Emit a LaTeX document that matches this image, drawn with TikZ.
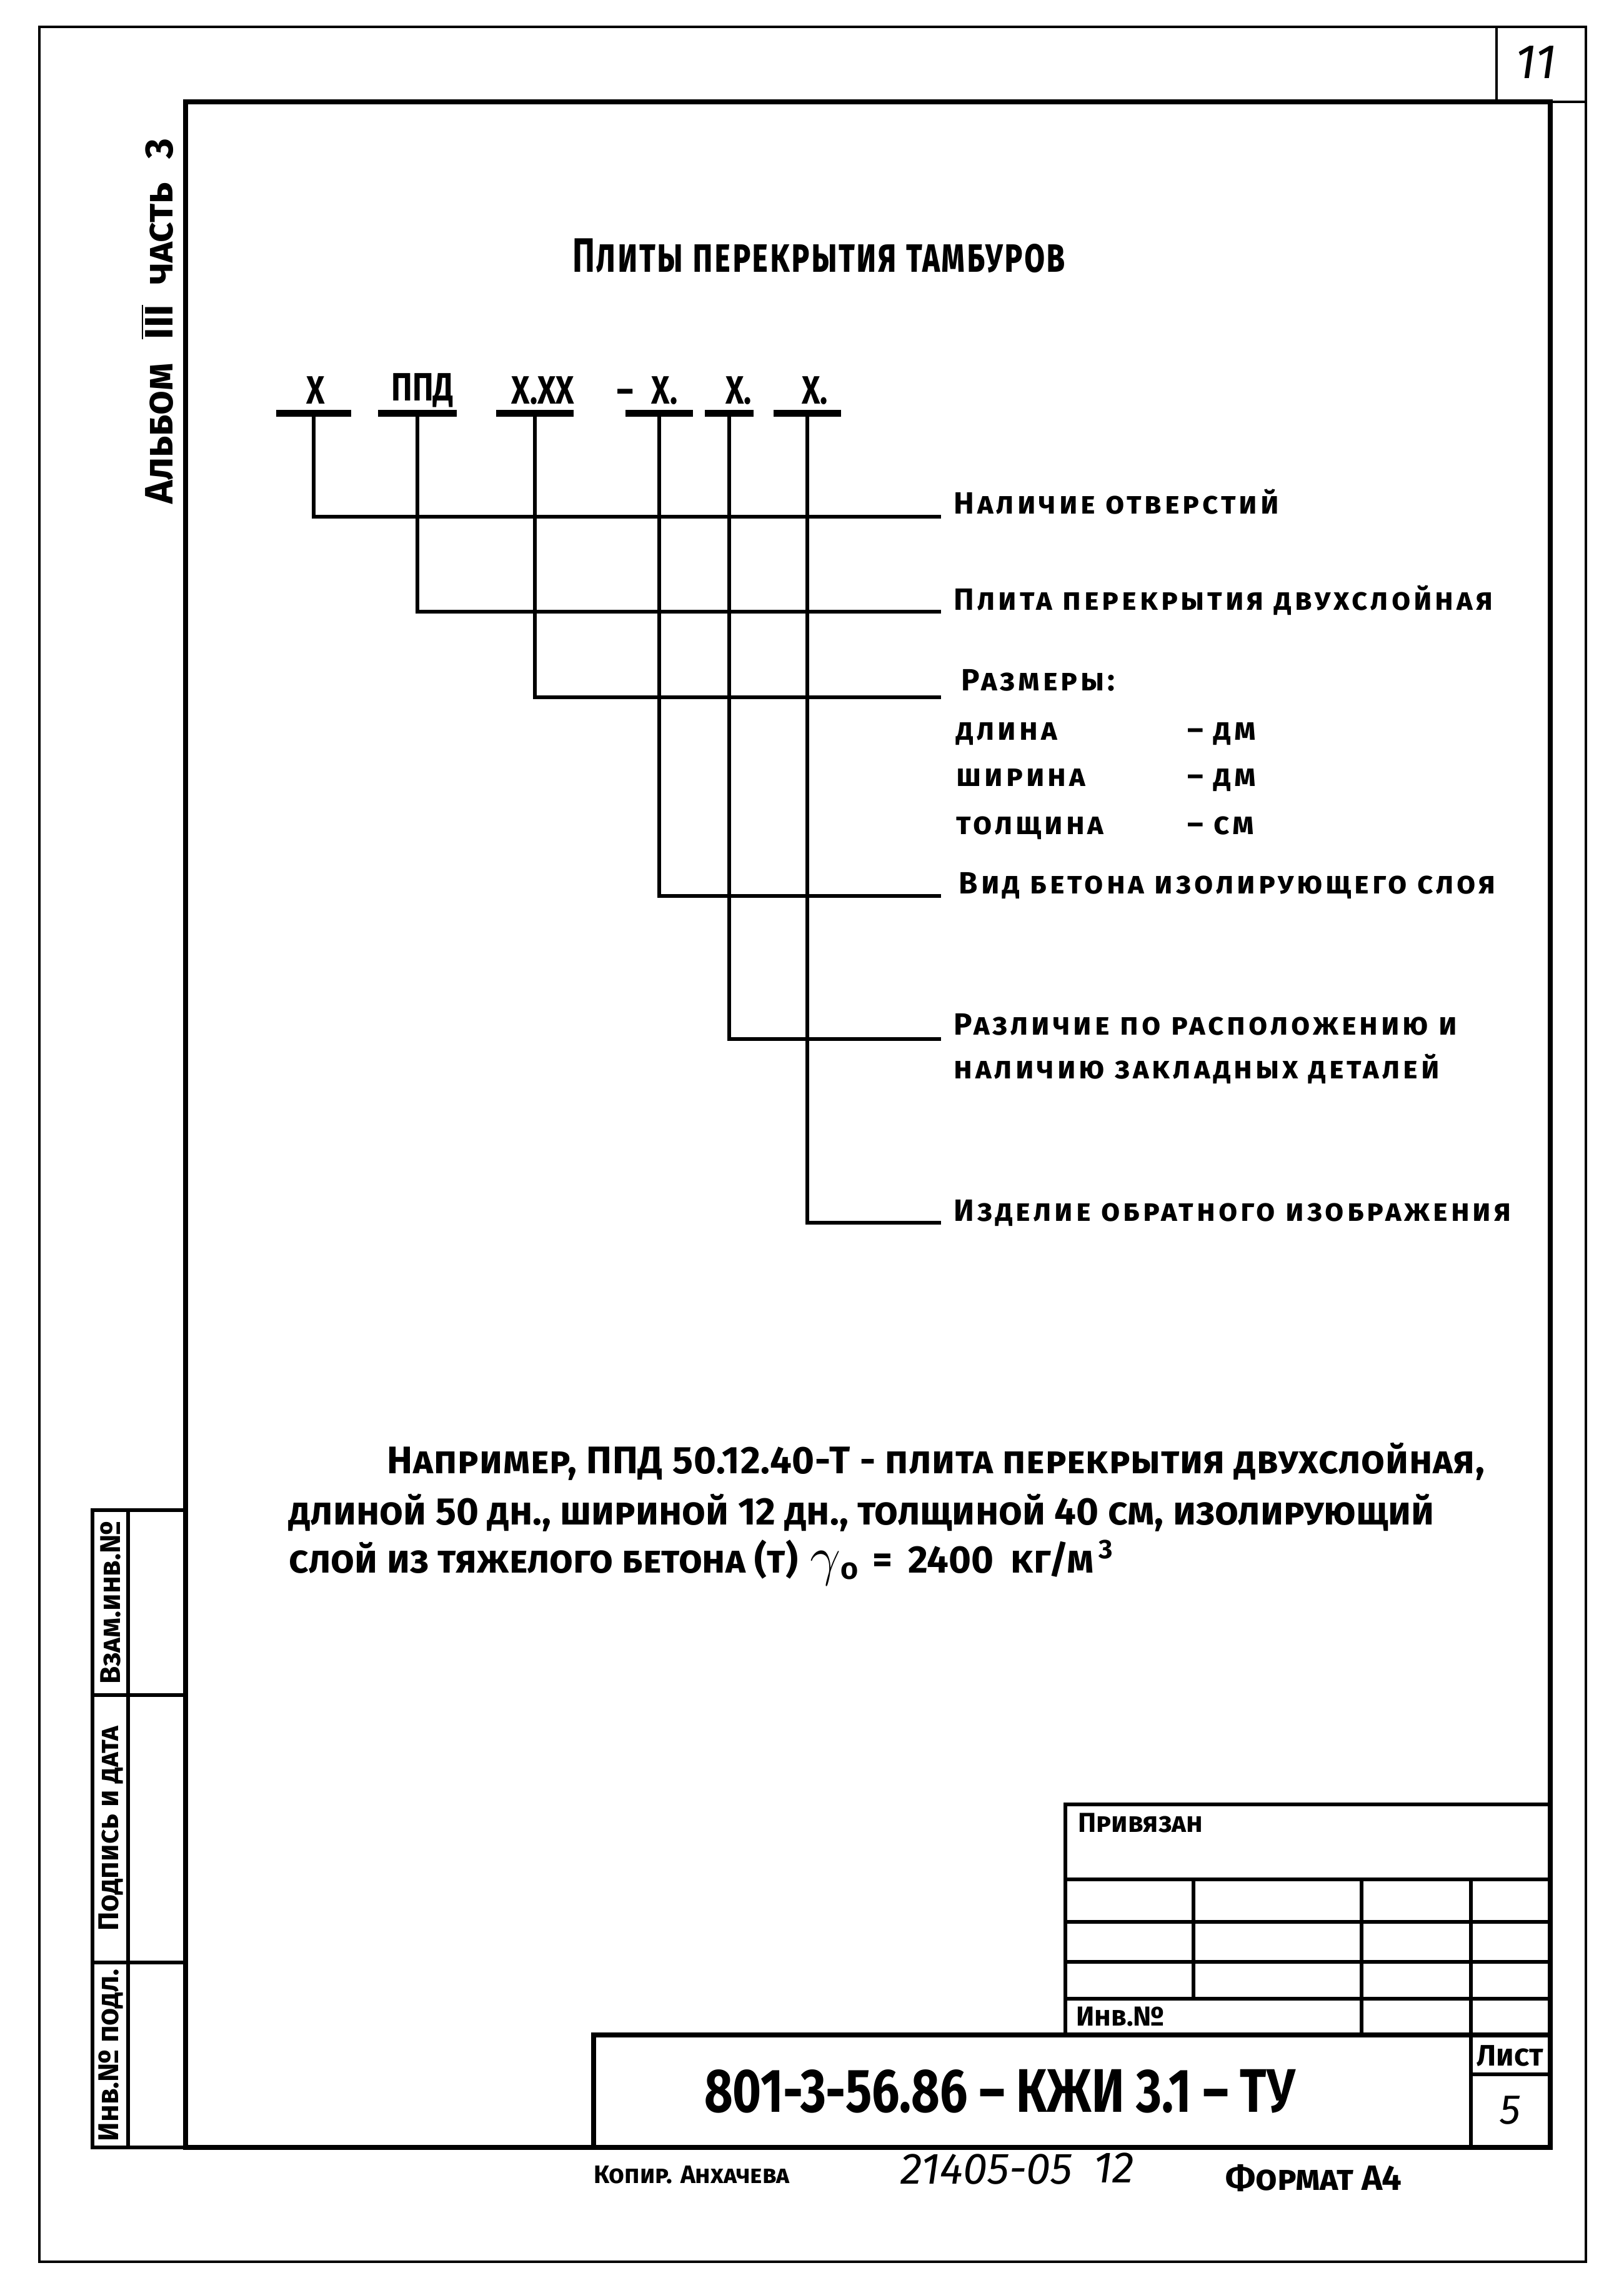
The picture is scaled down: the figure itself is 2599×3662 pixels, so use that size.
\documentclass[tikz,border=0pt]{standalone}
\usepackage{fontspec}
\setmainfont{Fira Sans}[Letters=SmallCaps]
\newfontfamily\narrowfont{Fira Sans}[Letters=SmallCaps,FakeStretch=0.8]
\newfontfamily\tallfont{Fira Sans}[Letters=SmallCaps,FakeStretch=0.7,LetterSpace=3]
\usetikzlibrary{positioning}
\begin{document}
\begin{tikzpicture}[x=0.01cm,y=-0.01cm,
  frame/.style={line width=2.2pt},
  thinline/.style={line width=0.9pt},
  cell/.style={line width=1.8pt},
  conn/.style={line width=1.7pt},
  bar/.style={fill=black,inner sep=0pt,minimum height=0.11cm},
  lbl/.style={anchor=base west,inner sep=0pt,font=\bfseries\fontsize{14}{16}\selectfont\addfontfeature{LetterSpace=10}},
  code/.style={inner sep=0pt,font=\narrowfont\bfseries\fontsize{18}{20}\selectfont},
  para/.style={anchor=base west,inner sep=0pt,font=\bfseries\fontsize{17.5}{21}\selectfont},
  stamp/.style={inner sep=0pt,rotate=90,font=\bfseries\fontsize{13}{15}\selectfont},
  small/.style={inner sep=0pt,font=\bfseries\fontsize{12.5}{14}\selectfont}]
\useasboundingbox (0,0) rectangle (2599,3662);

% sheet frame
\draw[thinline] (63,43) rectangle (2538,3620);
\draw[thinline] (2395,43) -- (2395,163);
\draw[thinline] (2481,163) -- (2538,163);
\draw[frame] (297,163) rectangle (2481,3437);
\node[font=\itshape\fontsize{22}{24}\selectfont] (sheetno) at (2458,100) {11};
\node[rotate=90,inner sep=0pt,font=\bfseries\fontsize{18}{20}\selectfont] (album) at (252,514) {Альбом\hspace{0.6em}$\overline{\mbox{III}}$\hspace{0.5em}часть\hspace{0.6em}3};

% side stamp
\draw[cell] (148,2417) rectangle (297,3437);
\draw[cell] (205,2417) -- (205,3437);
\draw[cell] (148,2713) -- (297,2713);
\draw[cell] (148,3141) -- (297,3141);
\node[stamp] (s1) at (177,2565) {Взам.инв.№};
\node[stamp] (s2) at (177,2927) {Подпись и дата};
\node[stamp] (s3) at (177,3289) {Инв.№ подл.};

% title and code
\node[inner sep=0pt,font=\tallfont\bfseries\fontsize{22}{24}\selectfont] (title) at (1311,409) {Плиты перекрытия тамбуров};
\node[code] (c1) at (505,625) {Х};
\node[code] (c2) at (676,625) {ППД};
\node[code] (c3) at (869,625) {Х.ХХ};
\node[code] (c4) at (1036,625) {–\hspace{0.45em}Х.};
\node[code] (c5) at (1182,625) {Х.};
\node[code] (c6) at (1304,625) {Х.};
\node[bar,minimum width=1.20cm] (b1) at (502,661) {};
\node[bar,minimum width=1.25cm] (b2) at (668,661) {};
\node[bar,minimum width=1.24cm] (b3) at (856,661) {};
\node[bar,minimum width=1.08cm] (b4) at (1055,661) {};
\node[bar,minimum width=0.78cm] (b5) at (1167,661) {};
\node[bar,minimum width=1.07cm] (b6) at (1292,661) {};

\coordinate (e1) at (1506,827);
\coordinate (e2) at (1506,979);
\coordinate (e3) at (1506,1116);
\coordinate (e4) at (1506,1434);
\coordinate (e5) at (1506,1663);
\coordinate (e6) at (1506,1957);
\draw[conn] (b1.south) |- (e1);
\draw[conn] (b2.south) |- (e2);
\draw[conn] (b3.south) |- (e3);
\draw[conn] (b4.south) |- (e4);
\draw[conn] (b5.south) |- (e5);
\draw[conn] (b6.south) |- (e6);

\node[lbl] (l1) at (1526,822) {Наличие отверстий};
\node[lbl] (l2) at (1526,976) {Плита перекрытия двухслойная};
\node[lbl] (l3) at (1538,1105) {Размеры:};
\node[lbl] (l3a) at (1530,1184) {длина};
\node[lbl] (u3a) at (1900,1184) {– дм};
\node[lbl] (l3b) at (1530,1258) {ширина};
\node[lbl] (u3b) at (1900,1258) {– дм};
\node[lbl] (l3c) at (1530,1335) {толщина};
\node[lbl] (u3c) at (1900,1335) {– см};
\node[lbl] (l4) at (1534,1430) {Вид бетона изолирующего слоя};
\node[lbl] (l5) at (1526,1656) {Различие по расположению и};
\node[lbl] (l5b) at (1526,1726) {наличию закладных деталей};
\node[lbl] (l6) at (1526,1954) {Изделие обратного изображения};

% example
\node[para,font=\bfseries\fontsize{17.5}{21}\selectfont\addfontfeature{LetterSpace=1.5}] (p1) at (619,2358) {Например, ППД 50.12.40-Т - плита перекрытия двухслойная,};
\node[para] (p2) at (462,2440) {длиной 50 дн., шириной 12 дн., толщиной 40 см, изолирующий};
\node[para] (p3) at (462,2517) {слой из тяжелого бетона (т)};
\node[inner sep=0pt,font=\fontsize{40}{40}\selectfont] (gam) at (1335,2510) {$\gamma$\raisebox{-2pt}{\bfseries\fontsize{13}{13}\selectfont o}};
\node[para] (p4) at (1396,2517) {=\hspace{0.4em}2400\hspace{0.45em}кг/м\textsuperscript{\,3}};

% title block
\draw[cell] (1705,2888) rectangle (2481,3257);
\draw[cell] (1705,3008) -- (2481,3008);
\draw[cell] (1705,3076) -- (2481,3076);
\draw[cell] (1705,3140) -- (2481,3140);
\draw[cell] (1705,3199) -- (2481,3199);
\draw[cell] (1910,3008) -- (1910,3199);
\draw[cell] (2179,3008) -- (2179,3257);
\draw[cell] (2354,3008) -- (2354,3437);
\draw[frame] (950,3257) rectangle (2481,3437);
\draw[cell] (2354,3320) -- (2481,3320);
\node[small,anchor=west] (bound) at (1725,2918) {Привязан};
\node[small,anchor=west] (inv) at (1722,3228) {Инв.№};
\node[inner sep=0pt,font=\bfseries\fontsize{13.5}{15}\selectfont] (sheet) at (2417,3290) {Лист};
\node[inner sep=0pt,font=\itshape\fontsize{19}{21}\selectfont] (sheetnum) at (2417,3378) {5};
\node[inner sep=0pt,font=\narrowfont\bfseries\fontsize{28}{30}\selectfont] (docno) at (1600,3347) {801-3-56.86 – КЖИ 3.1 – ТУ};

% below the frame
\node[small,anchor=west,font=\bfseries\fontsize{11.5}{13}\selectfont] (copy) at (950,3481) {Копир. Анхачева};
\node[inner sep=0pt,anchor=west,font=\itshape\fontsize{20}{22}\selectfont] (order) at (1441,3472) {21405-05};
\node[inner sep=0pt,font=\itshape\fontsize{20}{22}\selectfont] (page) at (1783,3470) {12};
\node[inner sep=0pt,anchor=west,font=\bfseries\fontsize{16}{18}\selectfont] (format) at (1961,3486) {Формат А4};
\end{tikzpicture}
\end{document}
